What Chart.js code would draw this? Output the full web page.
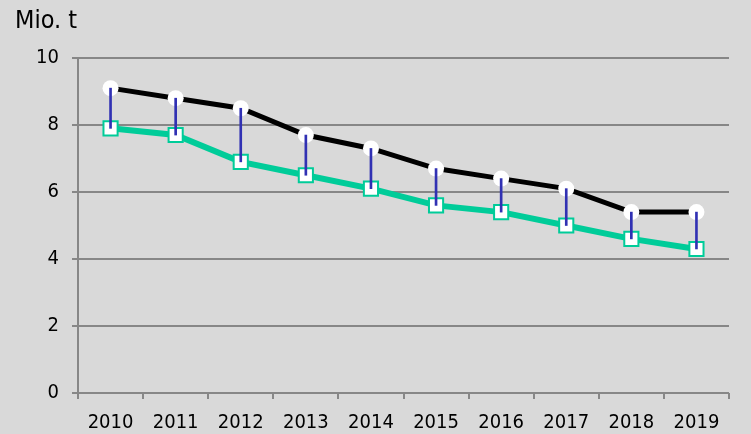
<!DOCTYPE html>
<html>
<head>
<meta charset="utf-8">
<title>Mio. t 2010-2019</title>
<script src="https://cdn.jsdelivr.net/npm/chart.js@4/dist/chart.umd.min.js"></script>
<style>
    html, body { margin: 0; padding: 0; background: #d9d9d9; }
    #wrap { width: 751px; height: 434px; }
</style>
</head>
<body>
<div id="wrap"><canvas id="mainChart" width="751" height="434"></canvas></div>
<script>
// Chart data
var years = ['2010', '2011', '2012', '2013', '2014', '2015', '2016', '2017', '2018', '2019'];
var upperValues = [9.1, 8.8, 8.5, 7.7, 7.3, 6.7, 6.4, 6.1, 5.4, 5.4];
var lowerValues = [7.9, 7.7, 6.9, 6.5, 6.1, 5.6, 5.4, 5.0, 4.6, 4.3];
var yTicks = [0, 2, 4, 6, 8, 10];
var unitLabel = 'Mio. t';

var gridColor = '#878787';
var tickFont = { family: "'DejaVu Sans Condensed', 'DejaVu Sans', sans-serif", size: 20 };

document.addEventListener('DOMContentLoaded', function() {
    // high-low connectors, built from the two series
    var spans = years.map(function(y, i) {
        return [lowerValues[i], upperValues[i]];
    });

    var ctx = document.getElementById('mainChart');
    new Chart(ctx, {
        type: 'line',
        data: {
            labels: years,
            datasets: [{
                type: 'bar',
                data: spans,
                backgroundColor: '#3131b3',
                borderWidth: 0,
                barThickness: 2,
                order: 0
            }, {
                data: upperValues,
                borderColor: '#000000',
                borderWidth: 5,
                pointStyle: 'circle',
                pointRadius: 8,
                pointBackgroundColor: '#ffffff',
                pointBorderColor: '#ffffff',
                pointBorderWidth: 0,
                order: 2
            }, {
                data: lowerValues,
                borderColor: '#00cc99',
                borderWidth: 6,
                pointStyle: 'rect',
                pointRadius: 10,
                pointBackgroundColor: '#ffffff',
                pointBorderColor: '#00cc99',
                pointBorderWidth: 2,
                order: 1
            }]
        },
        options: {
            responsive: false,
            animation: false,
            layout: { padding: { left: 15, right: 22, top: 0, bottom: 0 } },
            plugins: {
                legend: { display: false },
                tooltip: { enabled: false },
                title: {
                    display: true,
                    text: unitLabel,
                    align: 'start',
                    color: '#000000',
                    font: { family: tickFont.family, size: 25, weight: 'normal' },
                    padding: { top: 6, bottom: 22 }
                }
            },
            scales: {
                x: {
                    type: 'category',
                    offset: true,
                    grid: {
                        offset: true,
                        drawOnChartArea: false,
                        drawTicks: true,
                        tickLength: 6,
                        color: gridColor,
                        lineWidth: 2
                    },
                    border: { display: false },
                    ticks: { color: '#000000', font: tickFont, padding: 12, maxRotation: 0 },
                    afterFit: function(scale) { scale.height = 41; }
                },
                y: {
                    min: 0,
                    max: 10,
                    afterBuildTicks: function(scale) {
                        scale.ticks = yTicks.map(function(v) { return { value: v }; });
                    },
                    grid: {
                        color: gridColor,
                        lineWidth: 2,
                        tickLength: 6
                    },
                    border: { display: true, color: gridColor, width: 2 },
                    ticks: { color: '#000000', font: tickFont, padding: 13 },
                    afterFit: function(scale) { scale.width = 63; }
                }
            }
        }
    });
});
</script>
</body>
</html>
